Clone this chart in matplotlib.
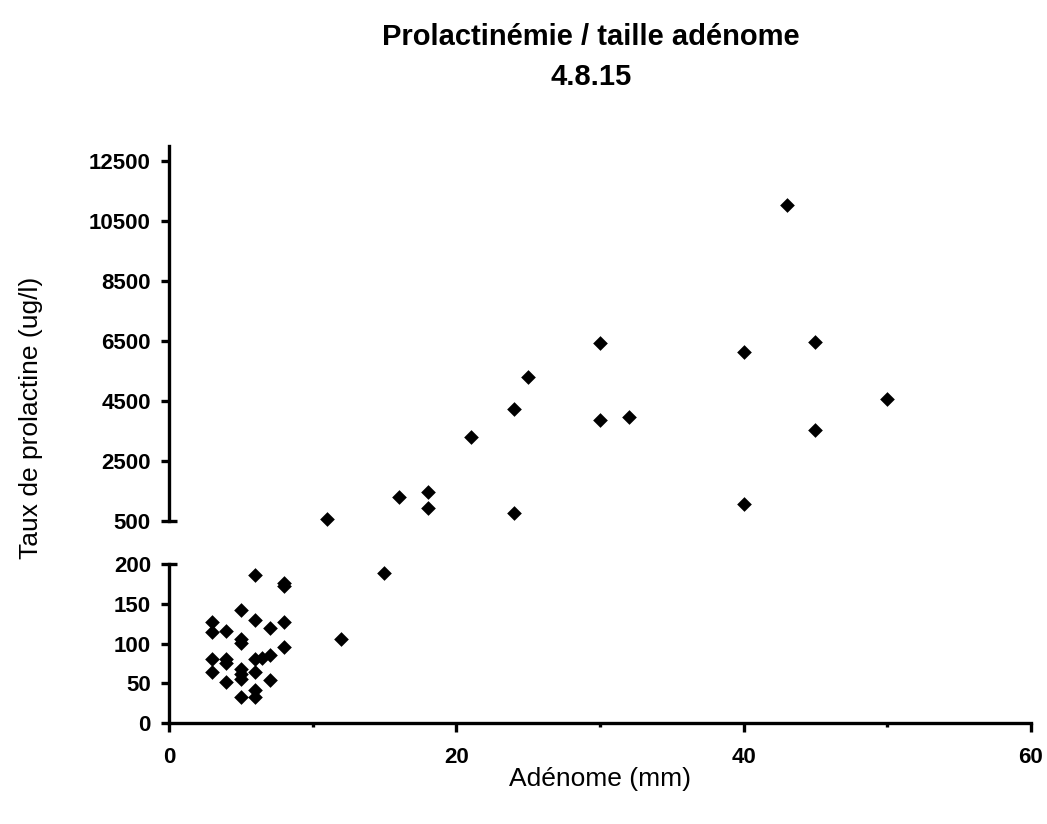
import numpy as np
import matplotlib
matplotlib.use("Agg")
import matplotlib.pyplot as plt
from matplotlib.ticker import MultipleLocator

# data: adenoma size (mm) vs prolactin level (ug/l)
low_x = [3, 3, 3, 3,
         4, 4, 4, 4,
         5, 5, 5, 5, 5, 5, 5,
         6, 6, 6, 6, 6, 6,
         6.5,
         7, 7, 7,
         8, 8, 8, 8,
         12, 15]
low_y = [127, 114, 80, 64,
         116, 80, 75, 51,
         142, 106, 101, 68, 62, 55, 33,
         186, 130, 80, 64, 42, 33,
         82,
         119, 85, 54,
         176, 172, 127, 95,
         106, 189]

high_x = [11, 16, 18, 18, 21, 24, 24, 25, 30, 30, 32, 40, 40, 43, 45, 45, 50]
high_y = [560, 1310, 1480, 920, 3290, 4220, 760, 5310, 6440, 3870, 3960,
          6130, 1060, 11020, 6460, 3530, 4570]

low_ticks = [0, 50, 100, 150, 200]
high_ticks = [500, 2500, 4500, 6500, 8500, 10500, 12500]
x_ticks = [0, 20, 40, 60]

x_label = "Adénome (mm)"
y_label = "Taux de prolactine (ug/l)"

# plot config
plt.rcParams["font.family"] = ["Liberation Sans", "DejaVu Sans"]
LW = 2.4
TICK_FS = 16
fig = plt.figure(figsize=(10.47, 8.24), dpi=100)

ax_lo = fig.add_axes([0.1614, 0.1226, 0.8233, 0.1929])
ax_hi = fig.add_axes([0.1614, 0.3677, 0.8233, 0.4551])

for ax in (ax_lo, ax_hi):
    for side in ("top", "right"):
        ax.spines[side].set_visible(False)
    ax.spines["left"].set_linewidth(LW)
    ax.spines["bottom"].set_linewidth(LW)
    ax.set_xlim(0, 60)
    ax.patch.set_alpha(0)
    ax.tick_params(axis="y", direction="out", length=6, width=LW,
                   labelsize=TICK_FS, pad=7)

# lower panel
ax_lo.scatter(low_x, low_y, marker="D", s=56, c="black", linewidths=0, clip_on=False)
ax_lo.set_ylim(0, 200)
ax_lo.set_yticks(low_ticks)
ax_lo.set_yticklabels([str(t) for t in low_ticks], fontweight="bold")
ax_lo.set_xticks(x_ticks)
ax_lo.set_xticklabels([str(t) for t in x_ticks], fontweight="bold")
ax_lo.xaxis.set_minor_locator(MultipleLocator(10))
ax_lo.tick_params(axis="x", which="major", direction="out", length=6.5,
                  width=LW, labelsize=TICK_FS, pad=11)
ax_lo.tick_params(axis="x", which="minor", direction="out", length=3, width=LW)

# upper panel
ax_hi.scatter(high_x, high_y, marker="D", s=56, c="black", linewidths=0, clip_on=False)
ax_hi.set_ylim(500, 13000)
ax_hi.set_yticks(high_ticks)
ax_hi.set_yticklabels([str(t) for t in high_ticks], fontweight="bold")
ax_hi.spines["bottom"].set_visible(False)
ax_hi.set_xticks([])

# break marks: ticks crossing the axis at both ends of the gap
for tick in (ax_lo.yaxis.get_major_ticks()[-1], ax_hi.yaxis.get_major_ticks()[0]):
    tick.tick1line.set_marker("_")
    tick.tick1line.set_markersize(12)

fig.text(0.5645, 0.955, "Prolactinémie / taille adénome", ha="center", va="center",
         fontsize=21, fontweight="bold")
fig.text(0.5645, 0.907, "4.8.15", ha="center", va="center",
         fontsize=21, fontweight="bold")
fig.text(0.573, 1 - 779 / 824, x_label, ha="center", va="center", fontsize=19)
fig.text(0.030, 1 - 418 / 824, y_label, ha="center", va="center", fontsize=19,
         rotation=90)

fig.savefig("out.png", dpi=100)
